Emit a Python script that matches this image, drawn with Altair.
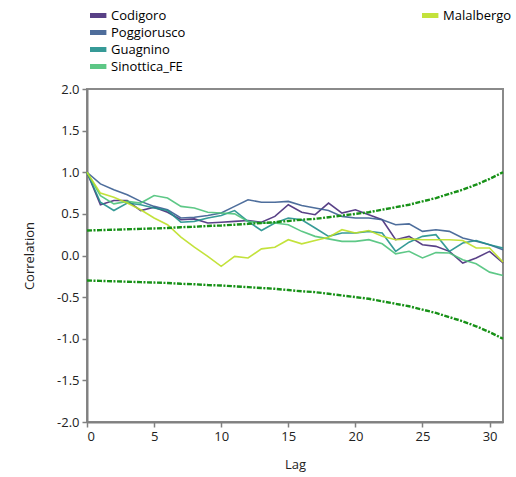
import altair as alt
import pandas as pd

lags = list(range(32))

codigoro = [1.00, 0.61, 0.66, 0.66, 0.54, 0.58, 0.52, 0.43, 0.44, 0.39, 0.40, 0.41, 0.42, 0.40, 0.47, 0.61,
            0.52, 0.49, 0.63, 0.51, 0.55, 0.49, 0.43, 0.19, 0.23, 0.13, 0.11, 0.05, -0.09, -0.03, 0.05, -0.09]
poggiorusco = [1.00, 0.86, 0.79, 0.73, 0.65, 0.59, 0.55, 0.45, 0.46, 0.48, 0.51, 0.59, 0.67, 0.64, 0.64, 0.65,
               0.60, 0.57, 0.54, 0.47, 0.45, 0.45, 0.43, 0.37, 0.38, 0.29, 0.31, 0.29, 0.21, 0.17, 0.13, 0.07]
guagnino = [1.00, 0.64, 0.54, 0.63, 0.61, 0.57, 0.54, 0.40, 0.41, 0.45, 0.48, 0.54, 0.41, 0.30, 0.39, 0.45,
            0.43, 0.33, 0.23, 0.27, 0.27, 0.29, 0.27, 0.05, 0.16, 0.23, 0.25, 0.05, 0.15, 0.18, 0.13, 0.09]
sinottica = [1.00, 0.72, 0.62, 0.65, 0.63, 0.72, 0.69, 0.59, 0.57, 0.52, 0.51, 0.50, 0.41, 0.39, 0.39, 0.37,
             0.29, 0.23, 0.20, 0.17, 0.17, 0.19, 0.14, 0.02, 0.05, -0.03, 0.035, 0.03, -0.05, -0.10, -0.20, -0.24]
malalbergo = [1.00, 0.75, 0.70, 0.63, 0.55, 0.45, 0.37, 0.22, 0.10, -0.01, -0.13, -0.01, -0.03, 0.08, 0.10, 0.19,
              0.14, 0.18, 0.22, 0.31, 0.27, 0.30, 0.23, 0.19, 0.20, 0.19, 0.19, 0.19, 0.18, 0.09, 0.09, -0.08]

upper_band = [0.30, 0.305, 0.31, 0.315, 0.32, 0.325, 0.33, 0.34, 0.345, 0.355, 0.36, 0.37, 0.38, 0.39, 0.40, 0.415,
              0.43, 0.44, 0.46, 0.48, 0.50, 0.52, 0.55, 0.58, 0.61, 0.65, 0.69, 0.74, 0.79, 0.85, 0.92, 1.00]
lower_band = [-0.30, -0.305, -0.31, -0.315, -0.32, -0.325, -0.33, -0.34, -0.345, -0.355, -0.36, -0.37, -0.38, -0.39,
              -0.40, -0.415, -0.43, -0.44, -0.46, -0.48, -0.50, -0.52, -0.55, -0.58, -0.61, -0.65, -0.69, -0.74,
              -0.79, -0.85, -0.92, -1.00]

names4 = ["Codigoro", "Poggiorusco", "Guagnino", "Sinottica_FE"]
colors4 = ["#472c7a", "#3b5e91", "#21908c", "#4cc27a"]
name5 = ["Malalbergo"]
colors5 = ["#bddf26"]

y_ticks = [2.0, 1.5, 1.0, 0.5, 0.0, -0.5, -1.0, -1.5, -2.0]
x_ticks = [0, 5, 10, 15, 20, 25, 30]

rows = []
for name, vals in zip(names4, [codigoro, poggiorusco, guagnino, sinottica]):
    for l, v in zip(lags, vals):
        rows.append({"lag": l, "value": v, "station": name})
df4 = pd.DataFrame(rows)
df5 = pd.DataFrame({"lag": lags, "value": malalbergo, "station": "Malalbergo"})

band_rows = []
for l, v in zip(lags, upper_band):
    band_rows.append({"lag": l, "value": v, "band": "upper"})
for l, v in zip(lags, lower_band):
    band_rows.append({"lag": l, "value": v, "band": "lower"})
band_df = pd.DataFrame(band_rows)

FONT = "Open Sans"

x_enc = alt.X("lag:Q", scale=alt.Scale(domain=[0, 31], nice=False, zero=False),
              axis=alt.Axis(values=x_ticks, title="Lag", grid=False, format="d"))
y_enc = alt.Y("value:Q", scale=alt.Scale(domain=[-2, 2], nice=False),
              axis=alt.Axis(values=y_ticks, title="Correlation", grid=False,
                            labelExpr="replace(format(datum.value, '.1f'), '\u2212', '-')"))

leg_common = dict(orient="none", title=None, symbolType="M-2.8,0L2.8,0", symbolStrokeWidth=5,
                  symbolSize=50, labelFont=FONT, labelFontSize=13, labelColor="#000000",
                  labelOffset=8, rowPadding=0, clipHeight=17, padding=0, direction="vertical")

lines4 = alt.Chart(df4).mark_line(strokeWidth=1.6, opacity=0.9).encode(
    x=x_enc, y=y_enc,
    color=alt.Color("station:N", sort=names4,
                    scale=alt.Scale(domain=names4, range=colors4),
                    legend=alt.Legend(legendX=3, legendY=-82, **leg_common)),
)
lines5 = alt.Chart(df5).mark_line(strokeWidth=1.6, opacity=0.9).encode(
    x=x_enc, y=y_enc,
    color=alt.Color("station:N",
                    scale=alt.Scale(domain=name5, range=colors5),
                    legend=alt.Legend(legendX=335, legendY=-82, **leg_common)),
)
bands = alt.Chart(band_df).mark_line(color="#179117", strokeWidth=2.4,
                                     strokeDash=[5, 1.5, 2, 1.5]).encode(
    x=x_enc, y=y_enc, detail="band:N"
)

chart = alt.layer(lines4, lines5, bands).resolve_scale(color="independent").properties(
    width=416, height=333,
    autosize=alt.AutoSizeParams(type="none"),
    padding={"left": 87, "top": 89, "right": 13, "bottom": 55},
).configure_view(
    stroke="#8a8a8a", strokeWidth=2
).configure_axis(
    domainColor="#808080", domainWidth=2, tickColor="#808080", tickWidth=1.5, tickSize=5,
    labelFont=FONT, labelFontSize=13, labelColor="#222222",
    titleFont=FONT, titleFontSize=13, titleFontWeight="normal", titleColor="#222222",
).configure_axisY(
    titlePadding=20, labelPadding=3
).configure_axisX(
    titlePadding=15, labelPadding=3
)

chart.save("out.html", embed_options={"renderer": "svg", "actions": False})
